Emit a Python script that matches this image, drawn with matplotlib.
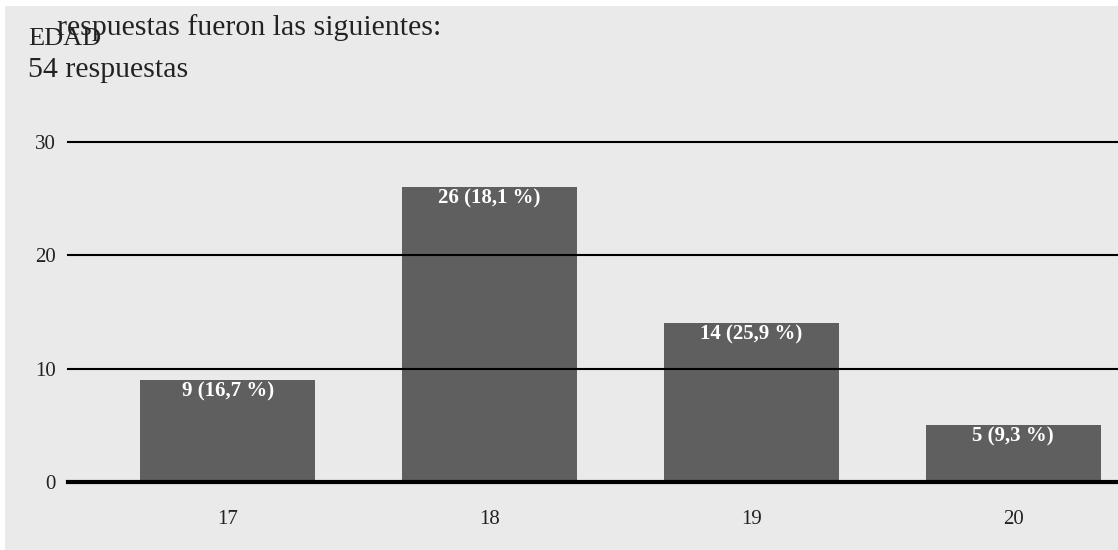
import matplotlib
matplotlib.use("Agg")
import matplotlib.pyplot as plt
from matplotlib.patches import Rectangle

# Data
edades = ["17", "18", "19", "20"]
respuestas = [9, 26, 14, 5]
etiquetas = ["9 (16,7 %)", "26 (18,1 %)", "14 (25,9 %)", "5 (9,3 %)"]
yticks = [0, 10, 20, 30]

W, H = 1118, 550
plt.rcParams["font.family"] = ["Liberation Serif", "DejaVu Serif"]

fig = plt.figure(figsize=(W / 100, H / 100), dpi=100, facecolor="white")

# grey panel behind the chart
fig.patches.append(Rectangle((5 / W, 0), 1 - 5 / W, (H - 6) / H,
                             transform=fig.transFigure, facecolor="#eaeaea",
                             edgecolor="none", zorder=-10))

def px(x, y):
    return x / W, 1 - y / H

txt = "#222222"
fig.text(*px(57, 35), "respuestas fueron las siguientes:", fontsize=21.5,
         color=txt, va="baseline", ha="left")
fig.text(*px(28, 45), "EDAD", fontsize=19, color=txt, va="baseline", ha="left")
fig.text(*px(28, 77), "54 respuestas", fontsize=21.5, color=txt, va="baseline", ha="left")

ax = fig.add_axes([68 / W, 68 / H, 1050 / W, 340 / H])
ax.set_facecolor("none")

x = list(range(len(edades)))
ax.bar(x, respuestas, width=0.669, color="#5f5f5f", zorder=2)

for xi, v, lab in zip(x, respuestas, etiquetas):
    ax.annotate(lab, (xi, v), xytext=(0, -8), textcoords="offset points",
                ha="center", va="center", color="white", fontsize=15,
                fontweight="bold", zorder=4)

for t in yticks[1:]:
    ax.axhline(t, color="black", lw=1.5, zorder=3, clip_on=False)
ax.axhline(0, color="black", lw=3, zorder=3, clip_on=False)

ax.set_xlim(-0.611, 3.401)
ax.set_ylim(0, 30)
ax.set_xticks(x)
ax.set_xticklabels(edades)
ax.set_yticks(yticks)
ax.set_yticklabels([str(t) for t in yticks])
ax.tick_params(axis="both", length=0, labelsize=15, labelcolor=txt)
ax.tick_params(axis="y", pad=9)
ax.tick_params(axis="x", pad=20)
for s in ax.spines.values():
    s.set_visible(False)

fig.savefig("out.png", dpi=100, facecolor="white")
